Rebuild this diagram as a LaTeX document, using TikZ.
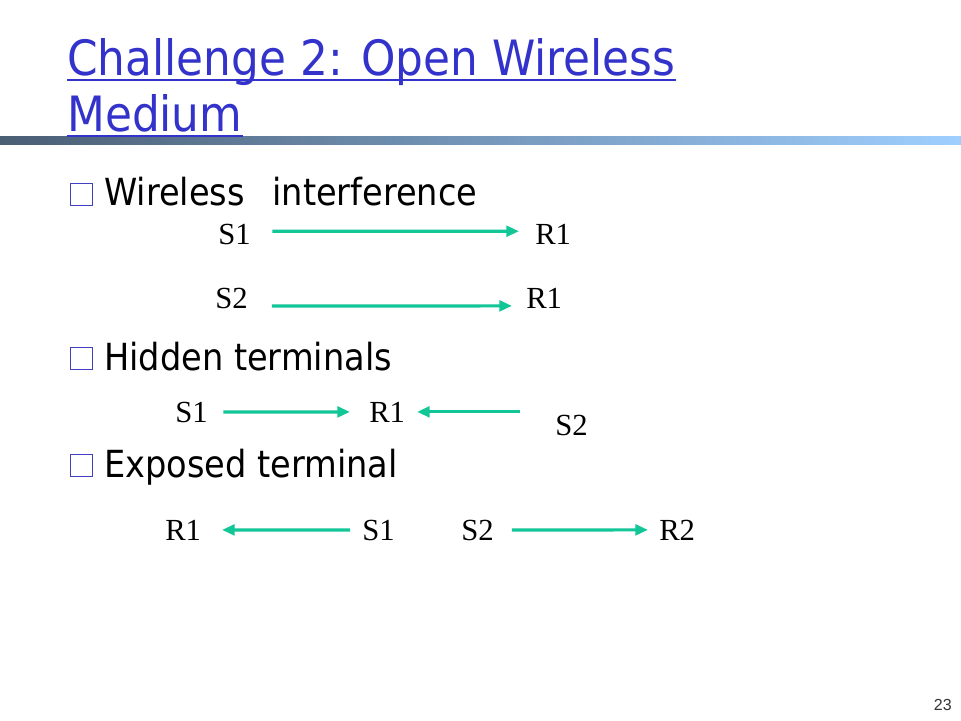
\documentclass[tikz,border=0pt]{standalone}
\usepackage{fontspec}
\setmainfont{Liberation Serif}
\newfontfamily\slidefont{DejaVu Sans}[FakeStretch=0.9]
\newfontfamily\numfont{Liberation Sans}
\usetikzlibrary{positioning, arrows.meta}
\definecolor{titleblue}{HTML}{3333CC}
\definecolor{boxblue}{HTML}{4040C0}
\definecolor{linkgreen}{HTML}{12C697}
\definecolor{bardark}{HTML}{4A5E74}
\definecolor{barlight}{HTML}{9FCFFF}

\begin{document}
\begin{tikzpicture}[x=0.75pt, y=-0.75pt, every node/.style={inner sep=0pt},
  lbl/.style={anchor=base west, font=\fontsize{23}{27}\selectfont},
  item/.style={anchor=base west, font=\slidefont\fontsize{28}{34}\selectfont},
  heading/.style={anchor=base west, text=titleblue, font=\slidefont\fontsize{36.5}{44}\selectfont},
  bulletbox/.style={draw=boxblue, line width=0.9pt, minimum size=16.5pt, anchor=south west},
  link/.style={-{Triangle[length=9.5pt, width=8pt]}, line width=2.4pt, draw=linkgreen},
  uline/.style={titleblue, line width=1.6pt}]
\fill[white] (0,0) rectangle (961,721);
\useasboundingbox (0,0) rectangle (961,721);
\shade[left color=bardark, right color=barlight] (0,136) rectangle (961,144);

\node (title1) [heading] at (67,75) {Challenge 2: Open Wireless};
\node (title2) [heading] at (67,131) {Medium};
\draw[uline] ([yshift=-3.5pt]title1.base west) -- ([yshift=-3.5pt]title1.base east);
\draw[uline] ([yshift=-3.5pt]title2.base west) -- ([yshift=-3.5pt]title2.base east);

\node (wbox) [bulletbox] at (70,206) {};
\node (wtxt) [item] at (104,205) {Wireless\ \ \,interference};
\node (hbox) [bulletbox] at (70,370) {};
\node (htxt) [item] at (104,370) {Hidden terminals};
\node (ebox) [bulletbox] at (70,477) {};
\node (etxt) [item] at (104,477) {Exposed terminal};

% interference
\node (s1a) [lbl] at (218,244) {S1};
\node (r1a) [lbl] at (535,244) {R1};
\node (s2b) [lbl] at (215,308) {S2};
\node (r1b) [lbl] at (526,308) {R1};
\draw[link, shorten <=16pt, shorten >=12pt] ([yshift=2pt]s1a.east) -- ([yshift=2pt]r1a.west);
\draw[link, shorten <=18pt, shorten >=10.5pt] ([yshift=-6pt]s2b.east) -- ([yshift=-6pt]r1b.west);

% hidden terminals
\node (s1c) [lbl] at (175,422) {S1};
\node (r1c) [lbl] at (369,422) {R1};
\node (s2c) [lbl] at (555,435) {S2};
\draw[link, shorten <=11.5pt, shorten >=14.25pt] (s1c) -- (r1c);
\draw[link, shorten <=26.25pt, shorten >=8.8pt] (s2c.west |- r1c.east) -- (r1c.east);

% exposed terminal
\node (r1d) [lbl] at (165,540) {R1};
\node (s1d) [lbl] at (362,540) {S1};
\node (s2d) [lbl] at (461,540) {S2};
\node (r2d) [lbl] at (659,540) {R2};
\draw[link, shorten <=9pt, shorten >=15.5pt] (s1d) -- (r1d);
\draw[link, shorten <=13.5pt, shorten >=8.25pt] (s2d) -- (r2d);

\node (pagenum) [anchor=base east, text=black!80, font=\numfont\fontsize{12}{14}\selectfont] at (952,710) {23};
\end{tikzpicture}
\end{document}
